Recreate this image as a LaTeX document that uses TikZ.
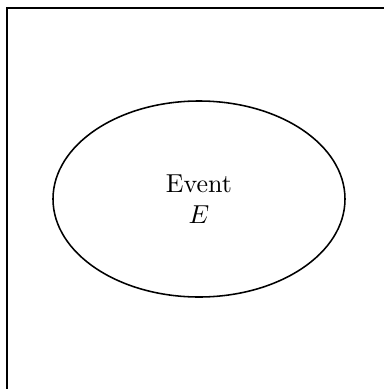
\documentclass[tikz,border=0pt]{standalone}
\usepackage{tikz}
\usetikzlibrary{shapes, positioning}

\begin{document}
\begin{tikzpicture}[
  x=0.01354cm, y=-0.01354cm,
  space/.style = {draw, line width=0.6pt},
  event/.style = {draw, ellipse, line width=0.6pt, minimum width=292*0.01354cm,
                  minimum height=196*0.01354cm, align=center, inner sep=0pt},
]

%% Frame
\useasboundingbox (0,0) rectangle (384,389);
\clip (0,0) rectangle (384,389);

%% Sample space
\draw[space] (7,8) coordinate (omega) rectangle (420,420);

%% Event
\node[event] (ev) at (199,199) {Event\\$E$};

\end{tikzpicture}
\end{document}
